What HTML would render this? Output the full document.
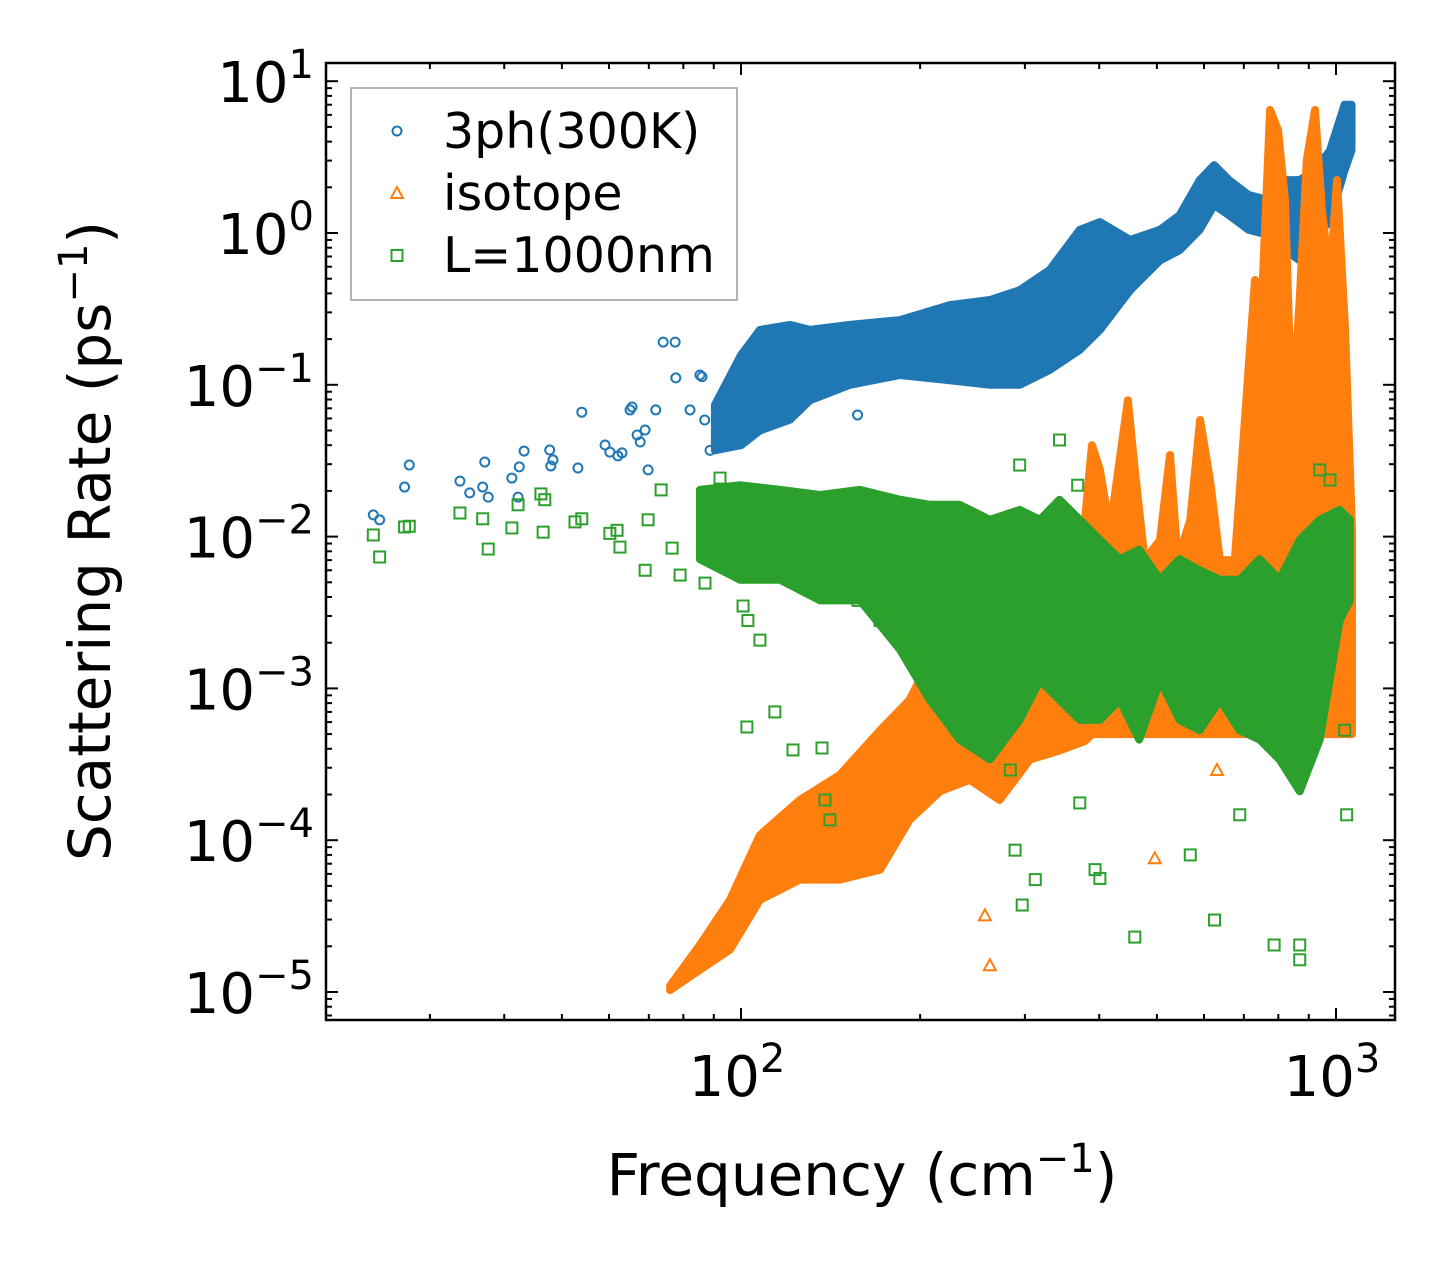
<!DOCTYPE html>
<html><head><meta charset="utf-8"><style>
html,body{margin:0;padding:0;background:#fff;}
svg{display:block;font-family:"DejaVu Sans","Liberation Sans",sans-serif;}
</style></head><body>
<svg id="chart" width="1455" height="1269" viewBox="0 0 1455 1269" xmlns="http://www.w3.org/2000/svg">
<rect width="1455" height="1269" fill="#fff"/>
<g id="marks"></g>
<g id="axes"></g>
<text x="110" y="541" font-size="58" text-anchor="middle" transform="rotate(-90 110 541)">Scattering Rate (ps<tspan font-size="40" dy="-23">−1</tspan><tspan dy="23">)</tspan></text>
<text x="862" y="1195" font-size="58" text-anchor="middle">Frequency (cm<tspan font-size="40" dy="-23">−1</tspan><tspan dy="23">)</tspan></text>
<g>
<rect x="351" y="88" width="386" height="212" fill="#fff" fill-opacity="0.8" stroke="#999" stroke-width="1.5"/>
<g>
<circle cx="397" cy="131" r="4.5" fill="none" stroke="#1f77b4" stroke-width="2"/>
<text x="443" y="148" font-size="49">3ph(300K)</text></g>
<g>
<polygon points="397,187 403,198 391,198" fill="none" stroke="#ff7f0e" stroke-width="2"/>
<text x="443" y="210" font-size="49">isotope</text></g>
<g>
<rect x="391.5" y="250" width="11" height="11" fill="none" stroke="#2ca02c" stroke-width="2"/>
<text x="443" y="272" font-size="49">L=1000nm</text></g>
</g>
</svg>
<script>
// ---- data (frequency cm^-1, rate ps^-1) ----
const blueEnvF  = [90.4,100,107.6,120.9,130.6,152.5,185,224.5,262,294,330,371,401,451,506,546,590,624,661,713,770,822,869,923,977,1034,1062];
const blueEnvLo = [0.037,0.04,0.05,0.059,0.079,0.1,0.116,0.107,0.1,0.1,0.125,0.17,0.23,0.42,0.66,0.77,1.05,1.53,1.31,1.05,0.97,0.77,0.66,0.9,1.22,2.6,3.5];
const blueEnvHi = [0.0736,0.157,0.23,0.248,0.23,0.248,0.267,0.335,0.362,0.42,0.57,1.05,1.18,0.9,1.05,1.31,2.23,2.8,2.23,1.78,1.65,2.23,2.23,2.6,3.5,7.0,7.0];
const blueF = [24.1,24.7,27.2,27.7,33.7,35,36.8,37.1,37.6,41.2,42.2,42.4,43.2,47.7,47.9,48.3,54.0,53.2,59.1,60.2,62.1,63.1,65.1,65.6,66.9,67.7,69.0,69.8,71.9,74.0,77.5,77.7,82.1,85.3,86.0,86.9,88.7,157];
const blueV = [0.0139,0.0129,0.0212,0.0296,0.0232,0.0194,0.0212,0.031,0.0182,0.0243,0.0182,0.0288,0.0366,0.0372,0.0292,0.032,0.066,0.0283,0.0401,0.036,0.034,0.0356,0.0683,0.0714,0.0467,0.042,0.0504,0.0275,0.0683,0.191,0.191,0.111,0.0683,0.116,0.113,0.0586,0.037,0.0633];

const orangeEnvF  = [76,85.3,95.8,107.6,125.6,146.7,171.4,192,216,242.5,272,306,343,378.6,389,401,417,433,447,459,477,506,526,542,569,591,614,638,676,703,731,751,775,799,821,843,869,893,922,947,977,1004,1036,1064];
const orangeEnvLo = [1.03e-5,1.4e-5,1.9e-5,4.04e-5,5.5e-5,5.5e-5,6.4e-5,1.36e-4,2.1e-4,2.5e-4,1.84e-4,3.4e-4,3.9e-4,4.5e-4,5e-4,5e-4,5e-4,5e-4,5e-4,5e-4,5e-4,5e-4,5e-4,5e-4,5e-4,5e-4,5e-4,5e-4,5e-4,5e-4,5e-4,5e-4,5e-4,5e-4,5e-4,5e-4,5e-4,5e-4,5e-4,5e-4,5e-4,5e-4,5e-4,5e-4];
const orangeEnvHi = [1.1e-5,2.04e-5,4.04e-5,1.08e-4,1.84e-4,2.7e-4,5.3e-4,8.4e-4,2.1e-3,2.8e-3,2.1e-3,2.8e-3,3.8e-3,0.0129,0.04,0.0275,0.011,0.032,0.079,0.0275,0.007,0.0095,0.0345,0.007,0.0129,0.0586,0.0236,0.007,0.007,0.0586,0.49,0.362,6.46,4.77,1.65,0.0586,0.362,3.03,6.46,1.42,0.49,2.23,0.23,0.011];
const orangeF = [257,262,631,496];
const orangeV = [3.2e-5,1.5e-5,2.9e-4,7.6e-5];

const greenEnvF  = [85.3,99.6,116.3,135.8,158.5,185,207.7,233,262,294,318,343,371,401,433,467,506,546,590,638,689,744,804,869,939,1014,1055];
const greenEnvLo = [0.0071,0.0052,0.0052,0.0038,0.0038,0.0018,8.4e-4,4.6e-4,3.4e-4,6.2e-4,1.13e-3,8.4e-4,6.2e-4,6.2e-4,8.4e-4,4.6e-4,1.13e-3,6.2e-4,5.3e-4,8.4e-4,5.3e-4,4.6e-4,3.4e-4,2.1e-4,4.6e-4,2.8e-3,3.8e-3];
const greenEnvHi = [0.0203,0.0218,0.0203,0.0188,0.0203,0.0175,0.0162,0.0162,0.0129,0.015,0.0129,0.0175,0.0129,0.0095,0.0071,0.0082,0.0052,0.0071,0.006,0.0052,0.0052,0.0071,0.0052,0.0095,0.0129,0.015,0.0129];
const greenF = [24.1,24.7,27.2,27.7,33.7,36.8,37.6,41.2,42.2,46.1,46.5,46.8,52.6,54.0,60.2,61.9,62.6,69.0,69.8,73.4,76.6,79.0,87.0,92.2,100.8,102.7,107.6,102.3,114.0,122.3,136.8,138.4,141.1,157.3,171.3,196,283.5,288.8,296.9,312.3,371,343,393.6,401,459,569,625,689,787,869,869,1042,1034,977,939,368,294];
const greenV = [0.01025,0.00734,0.01157,0.0117,0.0143,0.0131,0.00828,0.0114,0.0162,0.0191,0.0107,0.0175,0.0125,0.0131,0.0105,0.011,0.00853,0.006,0.0129,0.0203,0.0084,0.00558,0.00494,0.0243,0.00349,0.0028,0.00208,5.57e-4,7.0e-4,3.93e-4,4.05e-4,1.84e-4,1.36e-4,0.0038,0.0028,0.00305,2.9e-4,8.6e-5,3.74e-5,5.5e-5,1.76e-4,0.0433,6.4e-5,5.6e-5,2.3e-5,8.0e-5,2.98e-5,1.47e-4,2.04e-5,2.04e-5,1.63e-5,1.47e-4,5.3e-4,0.0236,0.0275,0.0218,0.0296];

const xMajorTicks = [100,1000];
const yMajorTicks = [1e-5,1e-4,1e-3,1e-2,1e-1,1,10];
const yTickExp = ["−5","−4","−3","−2","−1","0","1"];
const xTickExp = ["2","3"];

// ---- axis functions ----
const L=326,R=1395,T=63,B=1020;
function sx(f){return 741+(Math.log10(f)-2)*595;}
function sy(v){return 233-Math.log10(v)*151.8;}
const NS="http://www.w3.org/2000/svg";
function mk(tag,attrs,parent){const e=document.createElementNS(NS,tag);for(const k in attrs)e.setAttribute(k,attrs[k]);parent.appendChild(e);return e;}
const marks=document.getElementById('marks'), axes=document.getElementById('axes');

function band(F,Lo,Hi,color,name){
  const pts=[];
  for(let i=0;i<F.length;i++)pts.push(sx(F[i]).toFixed(1)+','+sy(Hi[i]).toFixed(1));
  for(let i=F.length-1;i>=0;i--)pts.push(sx(F[i]).toFixed(1)+','+sy(Lo[i]).toFixed(1));
  const p=mk('polygon',{points:pts.join(' '),fill:color,stroke:color,'stroke-width':8,'stroke-linejoin':'round'},marks);
  
  
}
function scatter(F,V,color,shape,name){
  const g=mk('g',{},marks);
  
  
  for(let i=0;i<F.length;i++){
    const x=sx(F[i]),y=sy(V[i]);let e;
    if(shape==='c')e=mk('circle',{cx:x,cy:y,r:4.5,fill:'none',stroke:color,'stroke-width':2},g);
    else if(shape==='t')e=mk('polygon',{points:`${x},${y-6} ${x+6},${y+5} ${x-6},${y+5}`,fill:'none',stroke:color,'stroke-width':2},g);
    else e=mk('rect',{x:x-5.5,y:y-5.5,width:11,height:11,fill:'none',stroke:color,'stroke-width':2},g);
    
    
  }
}
band(blueEnvF,blueEnvLo,blueEnvHi,'#1f77b4','3ph-dense-cloud');
scatter(blueF,blueV,'#1f77b4','c','3ph-points');
band(orangeEnvF,orangeEnvLo,orangeEnvHi,'#ff7f0e','isotope-dense-cloud');
scatter(orangeF,orangeV,'#ff7f0e','t','isotope-points');
band(greenEnvF,greenEnvLo,greenEnvHi,'#2ca02c','boundary-dense-cloud');
scatter(greenF,greenV,'#2ca02c','s','boundary-points');

// frame
const fr=mk('rect',{x:L,y:T,width:R-L,height:B-T,fill:'none',stroke:'#000','stroke-width':2.5},axes);


function tickX(x,len){mk('line',{x1:x,y1:B,x2:x,y2:B-len,stroke:'#000','stroke-width':2},axes);mk('line',{x1:x,y1:T,x2:x,y2:T+len,stroke:'#000','stroke-width':2},axes);}
function tickY(y,len){mk('line',{x1:L,y1:y,x2:L+len,y2:y,stroke:'#000','stroke-width':2},axes);mk('line',{x1:R,y1:y,x2:R-len,y2:y,stroke:'#000','stroke-width':2},axes);}
for(let d=1;d<=3;d++)for(let m=1;m<10;m++){const f=m*Math.pow(10,d);const x=sx(f);if(x<=L+1||x>=R-1)continue;tickX(x,m===1?12:6);}
for(let d=-6;d<=1;d++)for(let m=1;m<10;m++){const v=m*Math.pow(10,d);const y=sy(v);if(y<=T+1||y>=B-1)continue;tickY(y,m===1?12:6);}
xMajorTicks.forEach((f,i)=>{
  const t=mk('text',{x:sx(f)-4,y:B+76,'font-size':56,'text-anchor':'middle'},axes);
  
  
  t.innerHTML='10<tspan font-size="40" dy="-24">'+xTickExp[i]+'</tspan>';
});
yMajorTicks.forEach((v,i)=>{
  const t=mk('text',{x:314,y:sy(v)+21,'font-size':56,'text-anchor':'end'},axes);
  
  
  t.innerHTML='10<tspan font-size="40" dy="-24">'+yTickExp[i]+'</tspan>';
});
</script>
</body></html>
